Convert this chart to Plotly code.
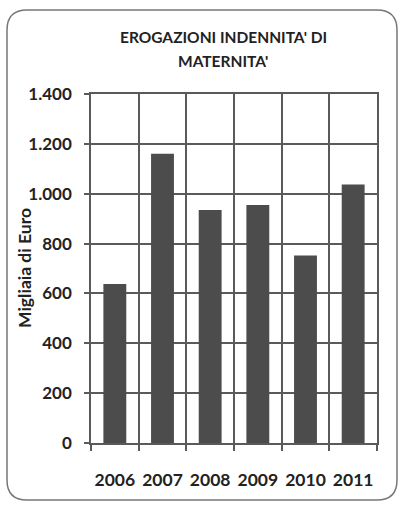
import plotly.graph_objects as go

years = ["2006", "2007", "2008", "2009", "2010", "2011"]
values = [638, 1160, 935, 955, 752, 1037]
y_ticks = [0, 200, 400, 600, 800, 1000, 1200, 1400]
title_lines = ["EROGAZIONI INDENNITA' DI", "MATERNITA'"]
y_title = "Migliaia di Euro"

W, H = 401, 506
L, R, T, B = 91, 24, 94, 63
pw, ph = W - L - R, H - T - B

def px(x):
    return (x - L) / pw

def py(y):
    return (H - B - y) / ph

fig = go.Figure()
fig.add_trace(go.Bar(
    x=years, y=values,
    marker=dict(color="#4c4c4c", line=dict(width=0)),
    width=0.48,
))

grid = "#5a5a5a"
fig.update_layout(
    width=W, height=H,
    margin=dict(l=L, r=R, t=T, b=B, autoexpand=False),
    paper_bgcolor="white", plot_bgcolor="white",
    separators=",.",
    showlegend=False,
    font=dict(family="Lato", color="#222"),
    xaxis=dict(
        type="category", tickson="boundaries", ticks="outside", ticklen=6,
        tickcolor=grid, tickwidth=1.5, tickangle=0, automargin=False,
        showgrid=True, gridcolor=grid, gridwidth=1.5,
        showline=True, linecolor=grid, linewidth=1.5, mirror=True,
        tickfont=dict(size=17.5, weight=700, color="#222"),
        ticklabelstandoff=20,
        range=[-0.5, 5.5],
    ),
    yaxis=dict(
        range=[0, 1400], tickvals=y_ticks, tickformat=",d", automargin=False,
        ticks="outside", ticklen=5, tickcolor=grid, tickwidth=1.5,
        showgrid=True, gridcolor=grid, gridwidth=1.5,
        showline=True, linecolor=grid, linewidth=1.5, mirror=True,
        tickfont=dict(size=17, weight=700, color="#222"),
        ticklabelstandoff=9,
        zeroline=False,
    ),
)

fig.add_annotation(text="<b>" + title_lines[0] + "</b>", x=px(223), y=py(37), xref="paper", yref="paper",
                   xanchor="center", yanchor="middle",
                   showarrow=False, font=dict(size=15.5, color="#222"))
fig.add_annotation(text="<b>" + title_lines[1] + "</b>", x=px(223), y=py(61), xref="paper", yref="paper",
                   xanchor="center", yanchor="middle",
                   showarrow=False, font=dict(size=15.5, color="#222"))
fig.add_annotation(text="<b>" + y_title + "</b>", x=px(24), y=py(268), xref="paper", yref="paper",
                   xanchor="center", yanchor="middle",
                   showarrow=False, textangle=-90, font=dict(size=17.5, color="#222"))

# rounded border
x0, x1, y0, y1, r = 7, 397, 10, 500, 20
path = (f"M {px(x0+r)},{py(y0)} L {px(x1-r)},{py(y0)} Q {px(x1)},{py(y0)} {px(x1)},{py(y0+r)} "
        f"L {px(x1)},{py(y1-r)} Q {px(x1)},{py(y1)} {px(x1-r)},{py(y1)} "
        f"L {px(x0+r)},{py(y1)} Q {px(x0)},{py(y1)} {px(x0)},{py(y1-r)} "
        f"L {px(x0)},{py(y0+r)} Q {px(x0)},{py(y0)} {px(x0+r)},{py(y0)} Z")
fig.add_shape(type="path", path=path, xref="paper", yref="paper",
              line=dict(color="#777", width=1.5), layer="below")

fig.write_html("out.html", config={"displayModeBar": False},
               post_script="document.body.style.margin='0';document.body.style.overflow='hidden';")
